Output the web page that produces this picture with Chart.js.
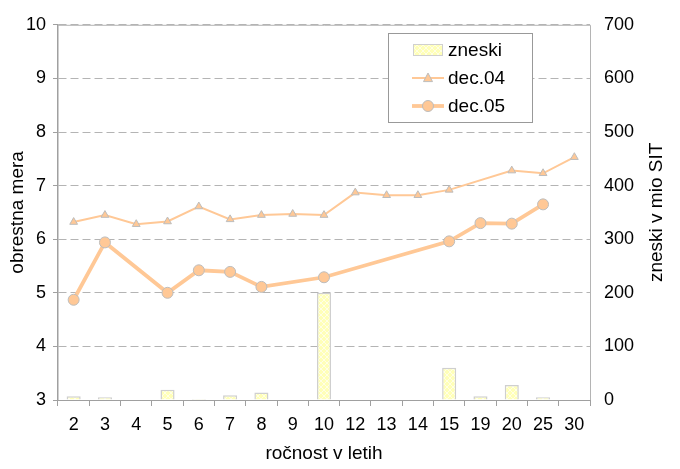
<!DOCTYPE html>
<html>
<head>
<meta charset="utf-8">
<script src="https://cdn.jsdelivr.net/npm/chart.js@4/dist/chart.umd.min.js"></script>
<style>
html,body{margin:0;padding:0;background:#fff;}
#wrap{width:680px;height:469px;position:relative;}
</style>
</head>
<body>
<div id="wrap"><canvas id="c" width="680" height="469"></canvas></div>
<script>
// ---- data ----
const categories = ['2','3','4','5','6','7','8','9','10','12','13','14','15','19','20','25','30'];
const zneski = [7,5,null,19,2,9,14,null,200,null,null,null,60,7,28,5,null];
const dec04 = [6.32,6.45,6.28,6.33,6.61,6.37,6.45,6.47,6.45,6.87,6.82,6.82,6.92,null,7.28,7.23,7.53];
const dec05 = [4.87,5.94,null,5.00,5.42,5.39,5.11,null,5.29,null,null,null,5.96,6.30,6.29,6.65,null];
const leftTicks = [3,4,5,6,7,8,9,10];
const rightTicks = [0,100,200,300,400,500,600,700];
const labels = {series:['zneski','dec.04','dec.05'], x:'ročnost v letih', yLeft:'obrestna mera', yRight:'zneski v mio SIT'};

const FONT = '"Liberation Sans", Arial, sans-serif';

// crosshatch pattern for bars
function makePattern(){
  const p = document.createElement('canvas');
  p.width = 6; p.height = 6;
  const g = p.getContext('2d');
  g.fillStyle = '#ffffb8'; g.fillRect(0,0,6,6);
  g.strokeStyle = 'rgba(255,255,235,0.9)'; g.lineWidth = 1;
  g.beginPath(); g.moveTo(0,0); g.lineTo(6,6); g.moveTo(6,0); g.lineTo(0,6); g.stroke();
  return document.getElementById('c').getContext('2d').createPattern(p,'repeat');
}
const pattern = makePattern();

const framePlugin = {
  id:'frame',
  beforeDatasetsDraw(chart){
    const {ctx, chartArea:a} = chart;
    ctx.save();
    ctx.strokeStyle = '#b4b4b4'; ctx.lineWidth = 1;
    ctx.beginPath();
    ctx.moveTo(a.left, a.top+0.5); ctx.lineTo(a.right+0.5, a.top+0.5);
    ctx.lineTo(a.right+0.5, a.bottom);
    ctx.stroke();
    ctx.restore();
  },
  afterDraw(chart){
    const {ctx, chartArea:a} = chart;
    ctx.save();
    // right axis title (reads upward)
    ctx.translate(657, (a.top+a.bottom)/2);
    ctx.rotate(-Math.PI/2);
    ctx.font = '19px ' + FONT;
    ctx.fillStyle = '#000';
    ctx.textAlign = 'center'; ctx.textBaseline = 'middle';
    ctx.fillText(labels.yRight, 0, 0);
    ctx.restore();

    // legend
    const bx = 388, by = 33, bw = 144, bh = 89;
    ctx.save();
    ctx.fillStyle = '#fff';
    ctx.fillRect(bx, by, bw, bh);
    ctx.strokeStyle = '#999'; ctx.lineWidth = 1;
    ctx.strokeRect(bx+0.5, by+0.5, bw, bh);
    ctx.font = '19px ' + FONT;
    ctx.fillStyle = '#000'; ctx.textBaseline = 'middle'; ctx.textAlign = 'left';
    const ds = chart.data.datasets;
    const rows = [50, 78, 106];
    // bar swatch
    ctx.fillStyle = pattern;
    ctx.fillRect(413, rows[0]-6, 30, 12);
    ctx.strokeStyle = '#d0d0d0'; ctx.lineWidth = 1;
    ctx.strokeRect(413.5, rows[0]-5.5, 29, 11);
    // line swatches
    [1,2].forEach(i=>{
      const d = ds[i], y = rows[i];
      ctx.strokeStyle = d.borderColor; ctx.lineWidth = d.borderWidth;
      ctx.beginPath(); ctx.moveTo(412, y); ctx.lineTo(444, y); ctx.stroke();
      ctx.fillStyle = d.pointBackgroundColor; ctx.strokeStyle = d.pointBorderColor; ctx.lineWidth = 1;
      ctx.beginPath();
      if (d.pointStyle === 'triangle'){
        const r = d.pointRadius;
        ctx.moveTo(428, y - r*1.1); ctx.lineTo(428 + r, y + r*0.8); ctx.lineTo(428 - r, y + r*0.8); ctx.closePath();
      } else {
        ctx.arc(428, y, d.pointRadius, 0, Math.PI*2);
      }
      ctx.fill(); ctx.stroke();
    });
    ctx.fillStyle = '#000';
    rows.forEach((y,i)=> ctx.fillText(labels.series[i], 448, y+1));
    ctx.restore();
  }
};

new Chart(document.getElementById('c'), {
  type:'bar',
  data:{
    labels: categories,
    datasets:[
      {type:'bar', label:labels.series[0], data:zneski, yAxisID:'y1', order:3,
       backgroundColor:pattern, borderColor:'#cfcfcf', borderWidth:1.5, barPercentage:0.45, categoryPercentage:1.0},
      {type:'line', label:labels.series[1], data:dec04, yAxisID:'y', order:2, spanGaps:true,
       borderColor:'#ffc896', borderWidth:2, pointStyle:'triangle', pointRadius:4.5,
       pointBackgroundColor:'#ffc896', pointBorderColor:'#bdbdbd', pointBorderWidth:1, tension:0},
      {type:'line', label:labels.series[2], data:dec05, yAxisID:'y', order:1, spanGaps:true,
       borderColor:'#ffc896', borderWidth:3.8, pointStyle:'circle', pointRadius:5.5,
       pointBackgroundColor:'#ffc896', pointBorderColor:'#bdbdbd', pointBorderWidth:1, tension:0}
    ]
  },
  options:{
    responsive:false, animation:false, devicePixelRatio:1,
    layout:{padding:{top:15,left:0,right:0,bottom:0}},
    plugins:{legend:{display:false}, tooltip:{enabled:false}},
    scales:{
      x:{
        offset:true,
        grid:{offset:true, drawOnChartArea:false, tickLength:6, color:'#a0a0a0'},
        border:{color:'#a0a0a0', width:1},
        ticks:{font:{family:FONT,size:18}, color:'#000', padding:8, maxRotation:0, autoSkip:false},
        title:{display:true, text:labels.x, font:{family:FONT,size:19}, color:'#000', padding:{top:0,bottom:4}},
        afterFit(s){ s.height = 69; }
      },
      y:{
        position:'left', min:3, max:10,
        afterBuildTicks(s){ s.ticks = leftTicks.map(v=>({value:v})); },
        grid:{color:'#b4b4b4', tickLength:5, tickColor:'#a0a0a0'},
        border:{color:'#a0a0a0', width:1.5, dash:[8,4]},
        ticks:{font:{family:FONT,size:18}, color:'#000', padding:7},
        title:{display:true, text:labels.yLeft, font:{family:FONT,size:19}, color:'#000', padding:{top:6,bottom:0}},
        afterFit(s){ s.width = 58; }
      },
      y1:{
        position:'right', min:0, max:700,
        afterBuildTicks(s){ s.ticks = rightTicks.map(v=>({value:v})); },
        grid:{drawOnChartArea:false, drawTicks:false},
        border:{display:false},
        ticks:{font:{family:FONT,size:18}, color:'#000', padding:14},
        afterFit(s){ s.width = 90; }
      }
    }
  },
  plugins:[framePlugin]
});
</script>
</body>
</html>
